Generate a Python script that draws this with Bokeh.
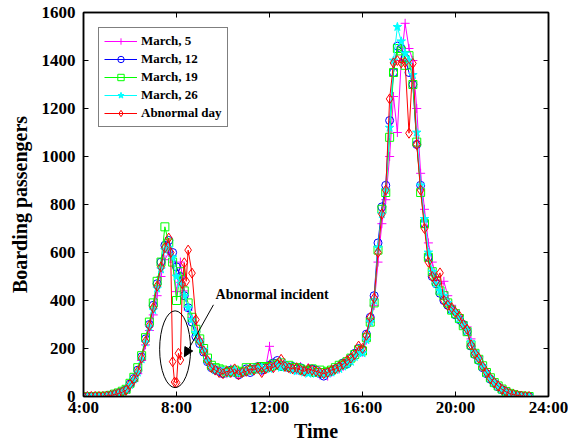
import numpy as np
from bokeh.plotting import figure
from bokeh.models import (Range1d, FixedTicker, LinearAxis, Arrow, NormalHead, Label)
from bokeh.embed import file_html
from bokeh.resources import INLINE

# ---------------- data (10-minute samples, 4:00 .. 23:10) ----------------
START_HOUR = 4
STEP_MIN = 10

march_5 = [
    0, 0, 0, 1, 0, 0,              # 4
    2, 3, 7, 11, 16, 24,           # 5
    45, 62, 95, 150, 215, 275,     # 6
    340, 420, 500, 570, 600, 560,  # 7
    437, 560, 440, 360, 330, 270,  # 8
    240, 185, 155, 130, 110, 105,  # 9
    100, 95, 115, 105, 90, 100,    # 10
    105, 110, 120, 115, 105, 120,  # 11
    209, 120, 140, 125, 135, 120,  # 12
    115, 110, 125, 105, 120, 100,  # 13
    100, 90, 95, 85, 105, 115,     # 14
    115, 125, 145, 150, 175, 185,  # 15
    185, 235, 310, 380, 560, 720,  # 16
    820, 1000, 1250, 1100, 1400, 1555,  # 17
    1450, 1400, 1200, 930, 780, 640,    # 18
    560, 500, 470, 480, 420, 380,  # 19
    360, 340, 310, 290, 240, 190,  # 20
    165, 130, 105, 80, 62, 48,     # 21
    32, 22, 14, 9, 5, 3,           # 22
    1, 0]                          # 23

march_12 = [
    0, 0, 1, 0, 0, 1,
    3, 5, 9, 14, 20, 28,
    52, 75, 110, 165, 240, 300,
    380, 470, 560, 630, 650, 600,
    540, 500, 420, 370, 310, 250,
    220, 185, 145, 120, 110, 105,
    95, 105, 110, 100, 90, 100,
    115, 100, 115, 125, 110, 120,
    130, 140, 150, 125, 130, 120,
    125, 115, 120, 105, 110, 115,
    110, 95, 85, 100, 105, 115,
    125, 140, 135, 160, 180, 200,
    195, 260, 330, 420, 640, 790,
    880, 1150, 1350, 1460, 1450, 1410,
    1350, 1300, 1050, 880, 720, 580,
    500, 470, 430, 400, 380, 360,
    340, 320, 300, 270, 210, 175,
    150, 120, 95, 72, 55, 40,
    28, 18, 11, 7, 4, 2,
    0, 0]

march_19 = [
    0, 0, 0, 0, 1, 0,
    2, 5, 10, 15, 22, 30,
    55, 80, 120, 170, 245, 310,
    390, 480, 560, 707, 640, 560,
    400, 520, 440, 390, 330, 280,
    240, 200, 160, 130, 120, 115,
    110, 100, 105, 110, 100, 105,
    120, 110, 120, 115, 125, 120,
    125, 135, 130, 140, 125, 130,
    120, 120, 115, 110, 105, 115,
    100, 110, 100, 105, 110, 120,
    130, 135, 145, 160, 175, 195,
    190, 245, 310, 390, 610, 780,
    850, 1080, 1350, 1450, 1440, 1380,
    1420, 1300, 1060, 850, 720, 580,
    520, 480, 440, 420, 390, 360,
    345, 325, 295, 270, 215, 180,
    155, 128, 100, 78, 58, 44,
    31, 21, 13, 8, 4, 2,
    1, 0]

march_26 = [
    0, 1, 0, 0, 0, 0,
    2, 4, 8, 13, 19, 27,
    48, 72, 100, 155, 225, 290,
    360, 450, 530, 610, 620, 580,
    500, 470, 420, 370, 320, 265,
    230, 195, 150, 125, 110, 105,
    105, 95, 100, 110, 95, 100,
    110, 105, 115, 110, 120, 115,
    115, 125, 130, 120, 135, 120,
    110, 105, 110, 100, 95, 105,
    95, 100, 90, 95, 100, 110,
    115, 125, 135, 145, 165, 185,
    180, 235, 310, 400, 620, 760,
    860, 1120, 1400, 1540, 1480, 1430,
    1400, 1340, 1100, 880, 740, 600,
    520, 470, 440, 420, 390, 360,
    350, 325, 300, 275, 225, 185,
    158, 125, 98, 75, 58, 42,
    30, 20, 12, 8, 4, 2,
    0, 0]

abnormal = [
    0, 0, 0, 0, 0, 0,
    2, 4, 8, 12, 18, 26,
    50, 70, 105, 160, 230, 295,
    370, 460, 540, 620, 660, 145,
    58, 152, 557, 610, 514, 320,
    230, 190, 150, 120, 110, 100,
    95, 105, 100, 115, 90, 100,
    105, 115, 110, 120, 100, 115,
    125, 120, 135, 155, 125, 120,
    115, 120, 110, 105, 115, 110,
    105, 100, 95, 100, 110, 115,
    125, 135, 150, 160, 175, 210,
    200, 255, 330, 410, 600, 760,
    860, 1240, 1390, 1400, 1390, 1392,
    1097, 1388, 1050, 860, 700, 560,
    500, 480, 515, 400, 380, 370,
    350, 335, 300, 280, 215, 180,
    160, 125, 100, 75, 58, 44,
    30, 20, 12, 8, 4, 2,
    0, 0]

# extra samples of the abnormal day around the incident (hour, passengers)
abnormal_extra_t = [7.75, 7.917, 8.083, 8.25, 8.417]
abnormal_extra_v = [600, 60, 180, 470, 480]

x_ticks = [4, 8, 12, 16, 20, 24]
x_tick_labels = ["4:00", "8:00", "12:00", "16:00", "20:00", "24:00"]
y_ticks = [0, 200, 400, 600, 800, 1000, 1200, 1400, 1600]

series_names = ["March, 5", "March, 12", "March, 19", "March, 26", "Abnormal day"]
annot_text = "Abnormal incident"
x_title = "Time"
y_title = "Boarding passengers"

# ---------------- figure ----------------
FONT = "Liberation Serif"

times = START_HOUR + np.arange(len(march_5)) * STEP_MIN / 60.0

t_ab = np.concatenate([times, abnormal_extra_t])
v_ab = np.concatenate([abnormal, abnormal_extra_v])
order = np.argsort(t_ab, kind="stable")
t_ab, v_ab = t_ab[order], v_ab[order]

p = figure(width=568, height=444, output_backend="svg", toolbar_location=None,
           x_range=Range1d(4, 24), y_range=Range1d(0, 1600),
           min_border_left=83, min_border_right=20, min_border_top=12,
           min_border_bottom=47)
p.background_fill_color = "white"
p.border_fill_color = "white"
p.outline_line_color = "black"
p.outline_line_width = 1.5
p.grid.visible = False

styles = [
    dict(color="#FF00FF", marker="cross", size=9, fill=None),
    dict(color="#0000FF", marker="circle", size=8, fill=None),
    dict(color="#00FF00", marker="square", size=8, fill=None),
    dict(color="#00FFFF", marker="star", size=9, fill="#00FFFF"),
    dict(color="#FF0000", marker="diamond", size=10, fill=None),
]
datasets = [(times, march_5), (times, march_12), (times, march_19),
            (times, march_26), (t_ab, v_ab)]

for (tx, vy), name, st in zip(datasets, series_names, styles):
    p.line(tx, vy, line_color=st["color"], line_width=1, legend_label=name)
    p.scatter(tx, vy, marker=st["marker"], size=st["size"],
              line_color=st["color"], fill_color=st["fill"], line_width=1,
              legend_label=name)

# annotation: ellipse, arrow, label
ELL_X, ELL_Y, ELL_W, ELL_H = 7.94, 197, 1.33, 320
p.ellipse(x=[ELL_X], y=[ELL_Y], width=ELL_W, height=ELL_H,
          fill_color=None, line_color="black", line_width=1)
p.add_layout(Arrow(end=NormalHead(size=9, fill_color="black", line_color="black"),
                   x_start=9.59, y_start=382, x_end=8.34, y_end=166,
                   line_color="black", line_width=1))
p.add_layout(Label(x=9.68, y=395, text=annot_text, text_font=FONT,
                   text_font_style="bold", text_font_size="14px",
                   text_color="black"))

# axes
def style_axis(ax, labels=True):
    ax.axis_line_color = "black"
    ax.axis_line_width = 1.5
    ax.major_tick_in = 5
    ax.major_tick_out = 0
    ax.major_tick_line_color = "black"
    ax.minor_tick_line_color = None
    ax.major_label_text_font = FONT
    ax.major_label_text_font_style = "bold"
    ax.major_label_text_color = "black"
    ax.axis_label_text_font = FONT
    ax.axis_label_text_font_style = "bold"
    ax.axis_label_text_color = "black"
    if not labels:
        ax.major_label_text_font_size = "1px"
        ax.major_label_text_color = None
        ax.major_label_standoff = 0

p.xaxis.ticker = FixedTicker(ticks=x_ticks)
p.xaxis.major_label_overrides = {t: l for t, l in zip(x_ticks, x_tick_labels)}
p.yaxis.ticker = FixedTicker(ticks=y_ticks)
style_axis(p.xaxis[0])
style_axis(p.yaxis[0])
p.xaxis.axis_label = x_title
p.yaxis.axis_label = y_title
p.xaxis.major_label_text_font_size = "17px"
p.yaxis.major_label_text_font_size = "17px"
p.xaxis.axis_label_text_font_size = "20px"
p.yaxis.axis_label_text_font_size = "20px"
p.xaxis.major_label_standoff = 1
p.xaxis.axis_label_standoff = 0
p.yaxis.major_label_standoff = 8
p.yaxis.axis_label_standoff = 8

top = LinearAxis(ticker=FixedTicker(ticks=x_ticks))
style_axis(top, labels=False)
p.add_layout(top, "above")
right = LinearAxis(ticker=FixedTicker(ticks=y_ticks))
style_axis(right, labels=False)
p.add_layout(right, "right")

# legend
lg = p.legend[0]
lg.location = "top_left"
lg.margin = 15
lg.padding = 5
lg.spacing = 2
lg.glyph_width = 33
lg.glyph_height = 16
lg.label_height = 16
lg.label_standoff = 4
lg.label_text_font = FONT
lg.label_text_font_style = "bold"
lg.label_text_font_size = "13px"
lg.label_text_color = "black"
lg.border_line_color = "black"
lg.border_line_width = 1
lg.background_fill_alpha = 1.0

open("out.html", "w").write(file_html(p, INLINE))
